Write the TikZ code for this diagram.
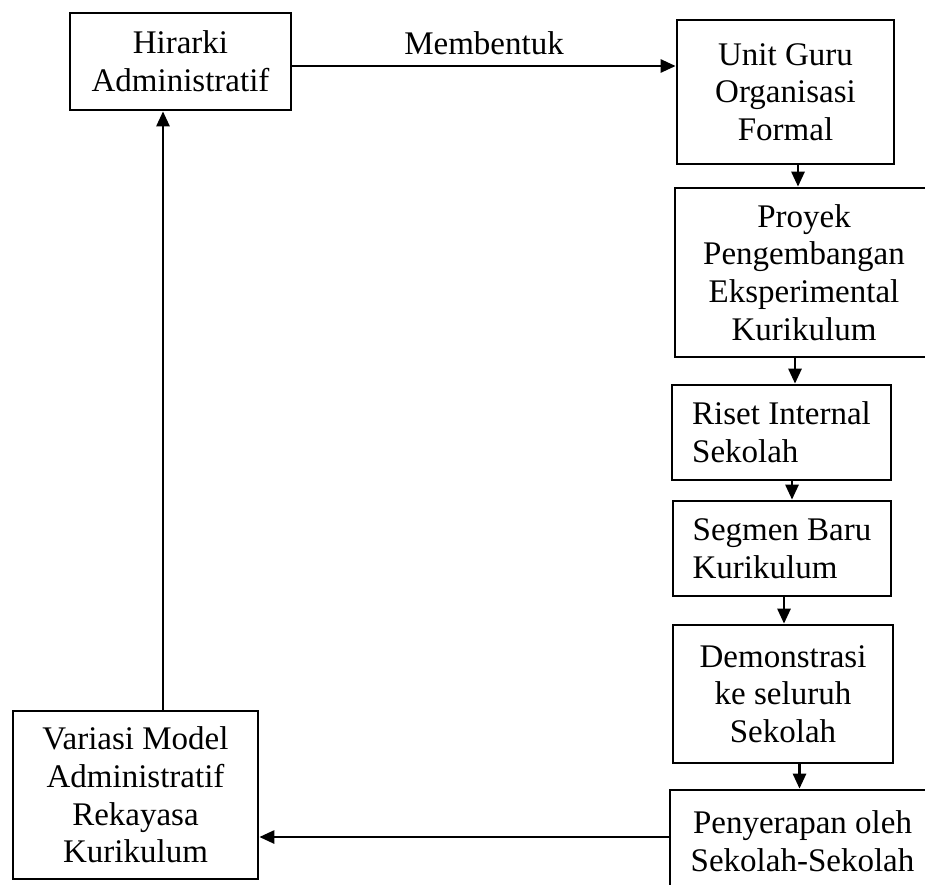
\documentclass[tikz,border=0pt]{standalone}
\usepackage{fontspec}
\setmainfont{Liberation Serif}
\usetikzlibrary{arrows.meta}
\begin{document}
\begin{tikzpicture}[x=0.5pt,y=-0.5pt,
  box/.style={draw, line width=1.35pt, inner sep=0pt, align=center,
    font=\fontsize{16.5}{18.8}\selectfont},
  lbox/.style={box, align=left},
  arr/.style={line width=1.35pt, -{Triangle[length=7.5pt,width=6.5pt]}},
  lbl/.style={font=\fontsize{16.5}{18.8}\selectfont, inner sep=5pt}]
\useasboundingbox (0,0) rectangle (925,884);
\clip (0,0) rectangle (925,884);

% boxes
\node[box, minimum width=110.5pt, minimum height=48.5pt] (hir) at (180.5,61.5)
  {Hirarki\\Administratif};
\node[box, minimum width=108.5pt, minimum height=72pt] (unit) at (785.5,92)
  {Unit Guru\\Organisasi\\Formal};
\node[box, minimum width=129pt, minimum height=84.5pt] (proyek) at (804,272.5)
  {Proyek\\Pengembangan\\Eksperimental\\Kurikulum};
\node[lbox, minimum width=109.5pt, minimum height=47.5pt] (riset) at (781.5,432.5)
  {Riset Internal\\Sekolah};
\node[lbox, minimum width=109pt, minimum height=47.5pt] (segmen) at (782,548.5)
  {Segmen Baru\\Kurikulum};
\node[box, minimum width=110pt, minimum height=69pt] (demo) at (783,694)
  {Demonstrasi\\ke seluruh\\Sekolah};
\node[box, minimum width=132.5pt, minimum height=51pt] (peny) at (802.5,841)
  {Penyerapan oleh\\Sekolah-Sekolah};
\node[box, minimum width=122.5pt, minimum height=84pt] (var) at (135.5,795)
  {Variasi Model\\Administratif\\Rekayasa\\Kurikulum};

% top connector with its label
\coordinate (h1) at ([yshift=-2.25pt]hir.east);
\draw[arr] (h1) -- (h1 -| unit.west)
  node[lbl, midway, above] (mb) {Membentuk};

% the chain down the right-hand column
\coordinate (a1) at ([xshift=6.25pt]unit.south);
\draw[arr] (a1) -- (a1 |- proyek.north);
\coordinate (a2) at ([xshift=6.75pt]riset.north);
\draw[arr] (a2 |- proyek.south) -- (a2);
\coordinate (a3) at ([xshift=5pt]segmen.north);
\draw[arr] (a3 |- riset.south) -- (a3);
\coordinate (a4) at ([xshift=0.5pt]demo.north);
\draw[arr] (a4 |- segmen.south) -- (a4);
\coordinate (a5) at ([xshift=-1.5pt]peny.north);
\draw[arr] (a5 |- demo.south) -- (a5);

% return path along the bottom and up the left side
\coordinate (b1) at ([yshift=-21pt]var.east);
\draw[arr] (b1 -| peny.west) -- (b1);
\coordinate (b2) at ([xshift=13.75pt]var.north);
\draw[arr] (b2) -- (b2 |- hir.south);
\end{tikzpicture}
\end{document}
